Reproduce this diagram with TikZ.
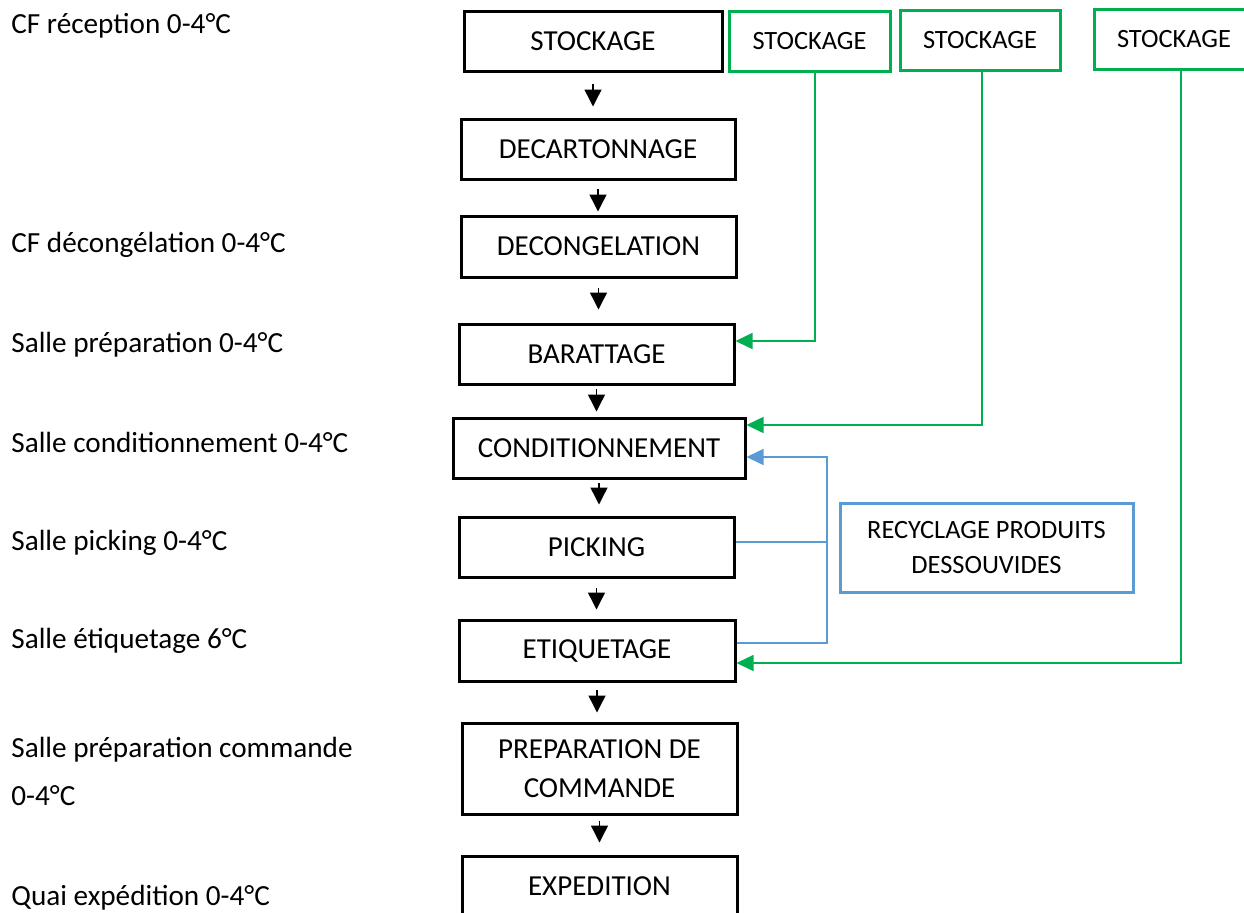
\documentclass[tikz,border=0pt]{standalone}
\usepackage{fontspec}
\setmainfont{Carlito}
\usetikzlibrary{arrows.meta}
\definecolor{flowgreen}{HTML}{00B050}
\definecolor{flowblue}{HTML}{5B9BD5}
\begin{document}
\begin{tikzpicture}[x=0.5pt,y=-0.5pt,
  stepbox/.style={draw=black,line width=1.5pt,rectangle,inner sep=0pt,
    font=\fontsize{14.5pt}{19.5pt}\selectfont,align=center},
  storebox/.style={draw=flowgreen,line width=1.5pt,rectangle,inner sep=0pt,
    font=\fontsize{13.2pt}{17.5pt}\selectfont,align=center},
  recyclebox/.style={draw=flowblue,line width=1.5pt,rectangle,inner sep=0pt,
    font=\fontsize{13.2pt}{17.5pt}\selectfont,align=center},
  roomlabel/.style={anchor=base west,inner sep=0pt,align=left,
    font=\fontsize{14.6pt}{24pt}\selectfont},
  flowarrow/.style={line width=0.7pt,-{Triangle[length=8.5pt,width=8.5pt]}},
  greenlink/.style={draw=flowgreen,line width=0.75pt,
    -{Triangle[length=8.5pt,width=8pt]}},
  bluelink/.style={draw=flowblue,line width=0.75pt},
  bluearrow/.style={bluelink,-{Triangle[length=8.5pt,width=8pt]}}]

\useasboundingbox (0,0) rectangle (1244,912);
\clip (0,0) rectangle (1244,912);

% room labels (base anchor sits on the last line)
\node[roomlabel] (r1) at (11,33)  {CF réception 0-4°C};
\node[roomlabel] (r2) at (11,252) {CF décongélation 0-4°C};
\node[roomlabel] (r3) at (11,352) {Salle préparation 0-4°C};
\node[roomlabel] (r4) at (11,452) {Salle conditionnement 0-4°C};
\node[roomlabel] (r5) at (11,550) {Salle picking 0-4°C};
\node[roomlabel] (r6) at (11,648) {Salle étiquetage 6°C};
\node[roomlabel] (r7) at (11,805) {Salle préparation commande\\0-4°C};
\node[roomlabel] (r8) at (11,905) {Quai expédition 0-4°C};

% main process steps
\node[stepbox,minimum width=129pt,minimum height=30pt]   (s1)     at (593,41)    {STOCKAGE};
\node[stepbox,minimum width=137pt,minimum height=30pt]   (decart) at (598,149)   {DECARTONNAGE};
\node[stepbox,minimum width=137.5pt,minimum height=30.5pt] (decong) at (598.5,246.5) {DECONGELATION};
\node[stepbox,minimum width=137.5pt,minimum height=30pt] (baratt) at (596.5,354) {BARATTAGE};
\node[stepbox,minimum width=146pt,minimum height=30pt]   (cond)   at (599,448)   {CONDITIONNEMENT};
\node[stepbox,minimum width=137.5pt,minimum height=30pt] (pick)   at (596.5,547) {PICKING};
\node[stepbox,minimum width=138pt,minimum height=30.5pt] (etiq)   at (597,650.5) {ETIQUETAGE};
\node[stepbox,minimum width=137.5pt,minimum height=45.5pt] (prep) at (599.5,768.5) {PREPARATION DE\\COMMANDE};
\node[stepbox,minimum width=137.5pt,minimum height=30pt] (exped)  at (599.5,886) {EXPEDITION};

% side storage and recycling
\node[storebox,minimum width=80.5pt,minimum height=30pt] (g1) at (809.5,41) {STOCKAGE};
\node[storebox,minimum width=80pt,minimum height=30pt]   (g2) at (980,40)   {STOCKAGE};
\node[storebox,minimum width=80pt,minimum height=30pt]   (g3) at (1174,39)  {STOCKAGE};
\node[recyclebox,minimum width=146.5pt,minimum height=44.5pt] (rec) at (986.5,547.5) {RECYCLAGE PRODUITS\\DESSOUVIDES};

% main flow
\draw[flowarrow,shorten <=5.5pt,shorten >=5.5pt] (s1.south)     -- (s1.south |- decart.north);
\draw[flowarrow,shorten <=4pt,shorten >=1.5pt]   (decart.south) -- (decart.south |- decong.north);
\draw[flowarrow,shorten <=4.5pt,shorten >=6.5pt] (decong.south) -- (decong.south |- baratt.north);
\draw[flowarrow,shorten <=1.5pt,shorten >=2.5pt] (baratt.south) -- (baratt.south |- cond.north);
\draw[flowarrow,shorten <=1.5pt,shorten >=5.5pt] (cond.south)   -- (cond.south |- pick.north);
\draw[flowarrow,shorten <=4.5pt,shorten >=4.5pt] (pick.south)   -- (pick.south |- etiq.north);
\draw[flowarrow,shorten <=3.5pt,shorten >=4.5pt] (etiq.south)   -- (etiq.south |- prep.north);
\draw[flowarrow,shorten <=2.5pt,shorten >=6pt]   (prep.south)   -- (prep.south |- exped.north);

% storage feeds
\draw[greenlink] ([xshift=2.75pt]g1.south) |- ([yshift=6.5pt]baratt.east);
\draw[greenlink] ([xshift=1pt]g2.south)    |- ([yshift=11.5pt]cond.east);
\draw[greenlink] ([xshift=3.5pt]g3.south)  |- ([yshift=-6.25pt]etiq.east);

% recycling loop
\coordinate (bus) at (827,457);
\draw[bluearrow] ([yshift=3.75pt]etiq.east) -| (bus) -- ([yshift=-4.5pt]cond.east);
\draw[bluelink] ([yshift=2.5pt]pick.east) coordinate (pe) -- (pe -| bus);
\end{tikzpicture}
\end{document}
